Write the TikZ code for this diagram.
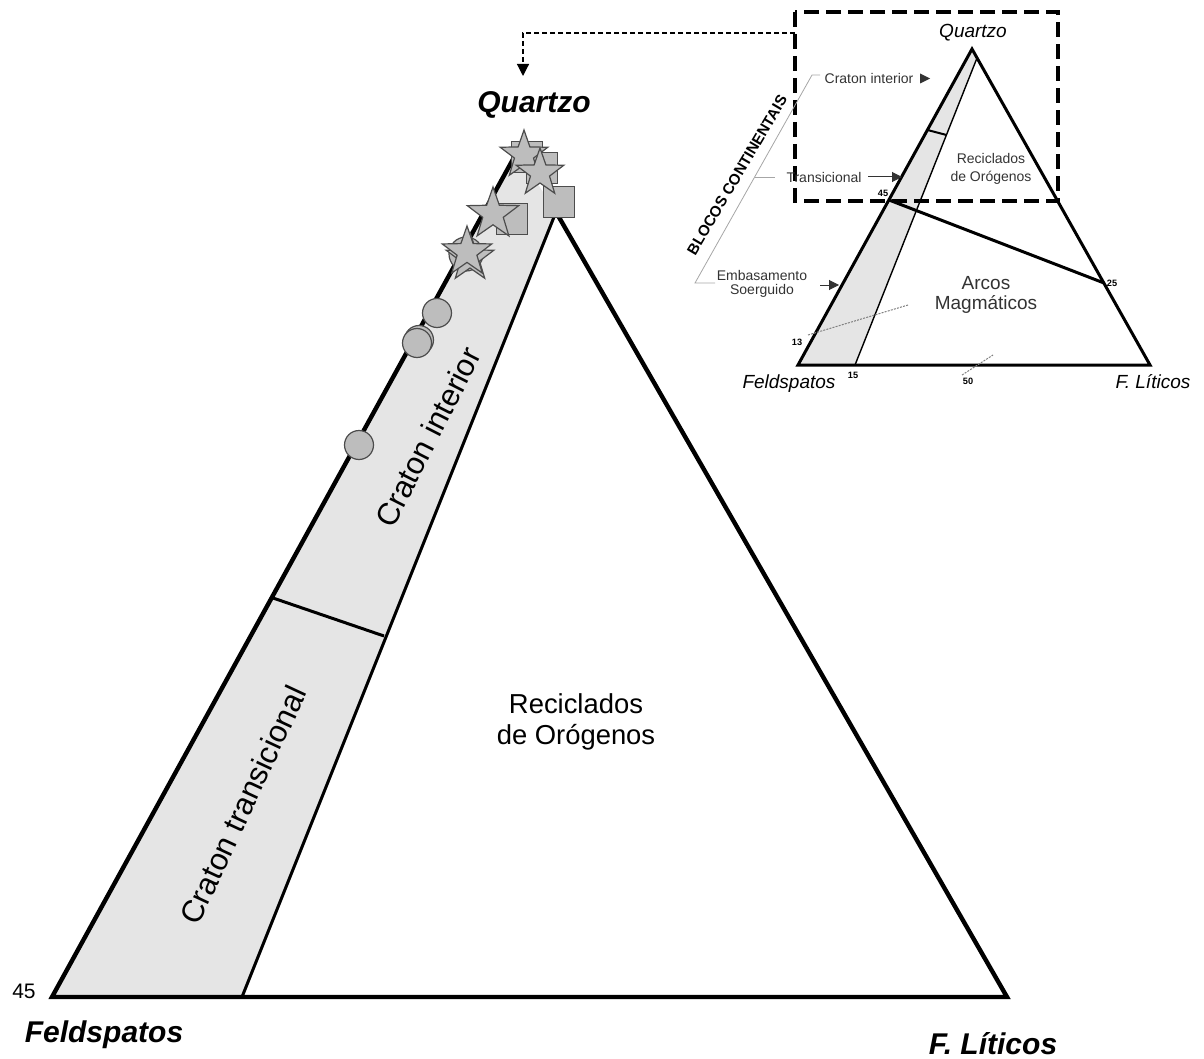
\documentclass[tikz,border=0pt]{standalone}
\usepackage{fontspec}
\setmainfont{Liberation Sans}
\usetikzlibrary{shapes.geometric,arrows.meta}
\definecolor{bandfill}{gray}{0.90}
\definecolor{symfill}{gray}{0.74}
\definecolor{symdraw}{gray}{0.30}
\definecolor{inklbl}{gray}{0.20}
\newcommand\fntBigBI{\fontsize{15pt}{18pt}\selectfont\bfseries\itshape}
\newcommand\fntBand{\fontsize{15.5pt}{18pt}\selectfont}
\newcommand\fntBigR{\fontsize{13.7pt}{15.5pt}\selectfont}
\newcommand\fntMedI{\fontsize{9.5pt}{10pt}\selectfont\itshape}
\newcommand\fntMedR{\fontsize{9.5pt}{10pt}\selectfont}
\newcommand\fntSmR{\fontsize{7pt}{7pt}\selectfont}
\newcommand\fntSmRb{\fontsize{7pt}{9pt}\selectfont}
\newcommand\fntSmB{\fontsize{7.6pt}{8pt}\selectfont\bfseries}
\newcommand\fntTinyB{\fontsize{4.6pt}{5pt}\selectfont\bfseries}
\begin{document}
\begin{tikzpicture}[x=0.5pt,y=-0.5pt,
  edge/.style={line width=2.2pt,line join=miter},
  sym/.style={fill=symfill,draw=symdraw,line width=0.6pt,inner sep=0pt,outer sep=0pt},
  starsym/.style={sym,star,star points=5,star point ratio=2.5,minimum size=#1},
  sqsym/.style={sym,rectangle,minimum size=15.5pt},
  circsym/.style={sym,circle,minimum size=14.5pt},
  lbl/.style={inner sep=0pt,outer sep=0pt},
  bracket/.style={draw=gray!70,line width=0.4pt},
  smallarrow/.style={line width=0.5pt,draw=inklbl,-{Triangle[length=5pt,width=5pt]}},
]
\useasboundingbox (0,0) rectangle (1204,1059);

% ---------------- main triangle ----------------
\coordinate (F) at (52,997);
\coordinate (L) at (1007,997);
\coordinate (Qa) at (517,152);
\coordinate (Qb) at (556,212);
\coordinate (B15) at (242,997);
\coordinate (D1) at (273,598);
\coordinate (D2) at (384,636);

\fill[bandfill] (F) -- (Qa) -- (Qb) -- (B15) -- cycle;
\draw[line width=1.5pt] (B15) -- (Qb);
\draw[line width=1.5pt] (D1) -- (D2);
\draw[edge] (Qa) -- (F) -- (L) -- (Qb);

% data symbols
\node[circsym] (c1) at (437,313) {};
\node[circsym] (c2b) at (419,340) {};
\node[circsym] (c2) at (417,343) {};
\node[circsym] (c3) at (359,445) {};

\node[sqsym] (s1) at (527,157) {};
\node[sqsym] (s2) at (542,168) {};
\node[sqsym] (s3) at (559,202) {};
\node[sqsym] (s4) at (512,219) {};
\node[circsym, minimum size=17pt] (c4) at (466,254) {};
\node[starsym=27pt] (st4) at (493,214) {};
\node[starsym=25pt] (st5b) at (470,258) {};
\node[starsym=26pt] (st5) at (467,252) {};
\node[starsym=25pt] (st1) at (524,155) {};
\node[starsym=25pt] (st2) at (540,173) {};

% labels main
\node[lbl,anchor=base] (qz) at (534,113) {\fntBigBI Quartzo};
\node[lbl,anchor=base] (fd) at (104,1042) {\fntBigBI Feldspatos};
\node[lbl,anchor=base] (fl) at (993,1054) {\fntBigBI F. Líticos};
\node[lbl,anchor=base] (n45) at (24,998) {\fontsize{10.5pt}{11pt}\selectfont 45};
\node[lbl,rotate=63,font=\fntBand] (ci) at (428,437) {Craton interior};
\node[lbl,rotate=65,font=\fntBand] (ct) at (243,805) {Craton transicional};
\node[lbl,align=center,font=\fntBigR] (ro) at (576,722) {Reciclados\\de Orógenos};

% ---------------- inset ----------------
\coordinate (iQ) at (972,49);
\coordinate (iF) at (798,365);
\coordinate (iL) at (1150,365);
\coordinate (iT) at (977,58);
\coordinate (i15) at (855,365);
\coordinate (i45) at (889,200);
\coordinate (i25) at (1104,283);
\coordinate (iD1) at (927.5,130);
\coordinate (iD2) at (946.5,135);

\fill[bandfill] (iQ) -- (iT) -- (i15) -- (iF) -- cycle;
\draw[line width=0.7pt] (iT) -- (i15);
\draw[line width=1.5pt] (i45) -- (i25);
\draw[line width=1pt] (iD1) -- (iD2);
\draw[line width=1.5pt,line join=miter] (iQ) -- (iF) -- (iL) -- cycle;

\coordinate (dA) at (808,335);
\coordinate (dB) at (908,305);
\coordinate (dC) at (962,375);
\coordinate (dD) at (993,355);
\draw[gray,line width=0.5pt,dash pattern=on 1pt off 0.6pt] (dA) -- (dB);
\draw[gray,line width=0.5pt,dash pattern=on 1pt off 0.6pt] (dC) -- (dD);

% dashed box and connector
\coordinate (bx1) at (795,12);
\coordinate (bx2) at (1058,201);
\coordinate (bxc) at (795,33);
\coordinate (qarr) at (523,76);
\draw[line width=1.6pt,dash pattern=on 7.5pt off 3.5pt] (bx1) rectangle (bx2);
\draw[line width=0.6pt,dash pattern=on 2.6pt off 1.4pt,-{Triangle[length=6pt,width=6pt]}] (bxc) -| (qarr);

% inset labels
\node[lbl,anchor=base] (iqz) at (973,38) {\fntMedI Quartzo};
\node[lbl,anchor=base] (ifd) at (789,388) {\fntMedI Feldspatos};
\node[lbl,anchor=base] (ifl) at (1153,388) {\fntMedI F. Líticos};
\node[lbl,align=center,text=inklbl,font=\fntSmRb] (iro) at (991,169) {Reciclados\\de Orógenos};
\node[lbl,align=center,text=inklbl,font=\fntMedR] (iam) at (986,295) {Arcos\\Magmáticos};

\node[lbl,text=inklbl] (lci) at (869,78) {\fntSmR Craton interior};
\coordinate (tri1) at (920,73.5);
\coordinate (tri2) at (920,83.5);
\coordinate (tri3) at (930,78.5);
\fill[inklbl] (tri1) -- (tri2) -- (tri3) -- cycle;

\node[lbl,text=inklbl] (ltr) at (824,177) {\fntSmR Transicional};
\coordinate (trA) at (868,177);
\coordinate (trB) at (902,177);
\draw[smallarrow] (trA) -- (trB);

\node[lbl,align=center,text=inklbl,font=\fntSmR] (lem) at (762,284) {Embasamento\\Soerguido};
\coordinate (emA) at (820,285);
\coordinate (emB) at (839,285);
\draw[smallarrow] (emA) -- (emB);

% bracket
\coordinate (bk1) at (820,75);
\coordinate (bk2) at (812,75);
\coordinate (bk3) at (695,283);
\coordinate (bk4) at (715,283);
\coordinate (bk5) at (755,177);
\coordinate (bk6) at (775,177);
\draw[bracket] (bk1) -- (bk2) -- (bk3) -- (bk4);
\draw[bracket] (bk5) -- (bk6);
\node[lbl,rotate=59.5] (blc) at (737,175) {\fntSmB BLOCOS CONTINENTAIS};

% numbers
\node[lbl] (t45) at (883,193) {\fntTinyB 45};
\node[lbl] (t25) at (1112,283) {\fntTinyB 25};
\node[lbl] (t13) at (797,342) {\fntTinyB 13};
\node[lbl] (t15) at (853,375) {\fntTinyB 15};
\node[lbl] (t50) at (968,381) {\fntTinyB 50};
\end{tikzpicture}
\end{document}
